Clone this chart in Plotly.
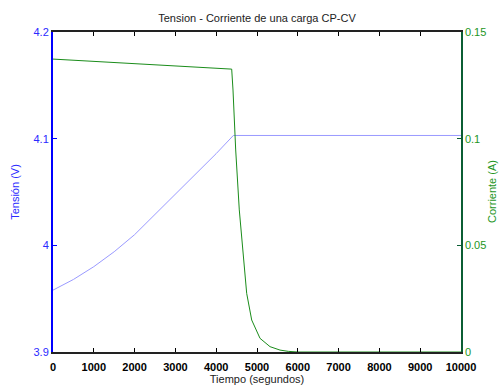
import plotly.graph_objects as go

# Voltage (V) vs time (s)
t_v = [0, 500, 1000, 1500, 2000, 2500, 3000, 3500, 4000, 4420, 10000]
v = [3.958, 3.968, 3.980, 3.994, 4.010, 4.029, 4.048, 4.067, 4.086, 4.103, 4.103]

# Current (A) vs time (s)
t_i = [0, 1000, 2000, 3000, 4000, 4380, 4412, 4478, 4566, 4689, 4747, 4870,
       5074, 5319, 5564, 5767, 6000, 10000]
i_a = [0.1373, 0.1363, 0.1353, 0.1342, 0.1330, 0.1326, 0.1228, 0.0947, 0.0666,
       0.0384, 0.0275, 0.0150, 0.0064, 0.0025, 0.0009, 0.0003, 0.0, 0.0]

x_ticks = list(range(0, 10001, 1000))
x_tick_text = [str(t) for t in x_ticks]
v_ticks = [3.9, 4.0, 4.1, 4.2]
v_tick_text = ["3.9", "4", "4.1", "4.2"]
i_ticks = [0, 0.05, 0.1, 0.15]
i_tick_text = ["0", "0.05", "0.1", "0.15"]

FONT = "Liberation Sans, Arial, sans-serif"
BLUE = "#0000ff"
GREEN_TXT = "#1e961e"
GREEN_AX = "#0b5e34"

fig = go.Figure()
fig.add_trace(go.Scatter(x=t_v, y=v, mode="lines", yaxis="y",
                         line=dict(color="#9a9aff", width=1), showlegend=False))
fig.add_trace(go.Scatter(x=t_i, y=i_a, mode="lines", yaxis="y2",
                         line=dict(color="#1a8c1a", width=1), showlegend=False))

fig.update_layout(
    width=499, height=385,
    margin=dict(l=53, r=38, t=32, b=33, autoexpand=False),
    paper_bgcolor="white", plot_bgcolor="white",
    font=dict(family=FONT, size=11, color="black"),
    title=dict(text="Tension - Corriente de una carga CP-CV", x=0.515, xanchor="center",
               y=1 - 18 / 385, yanchor="middle", font=dict(size=11, color="#222")),
    xaxis=dict(range=[0, 10000], tickvals=x_ticks, ticktext=x_tick_text,
               ticks="inside", ticklen=4, ticklabelstandoff=4,
               tickcolor="black", showline=True, linecolor="#222", linewidth=1.5,
               mirror="ticks", showgrid=False, zeroline=False, automargin=False,
               tickfont=dict(size=11, color="black", weight="bold"),
               title=dict(text="Tiempo (segundos)", standoff=0, font=dict(size=11, color="#222"))),
    yaxis=dict(range=[3.9, 4.2], tickvals=v_ticks, ticktext=v_tick_text,
               ticks="inside", ticklen=4, tickcolor=BLUE, showline=True,
               linecolor=BLUE, linewidth=2, showgrid=False, zeroline=False,
               automargin=False,
               tickfont=dict(size=11, color="#2a2aff"),
               title=dict(text="Tensión (V)", standoff=12,
                          font=dict(size=11, color="#2a2aff"))),
    yaxis2=dict(range=[0, 0.15], tickvals=i_ticks, ticktext=i_tick_text,
                overlaying="y", side="right", ticks="inside", ticklen=4,
                tickcolor=GREEN_AX, showline=True, linecolor=GREEN_AX, linewidth=1.5,
                showgrid=False, zeroline=False, automargin=False,
                tickfont=dict(size=11, color=GREEN_TXT)),
    annotations=[dict(text="Corriente (A)", xref="paper", yref="paper",
                      x=(492 - 53) / 408, y=0.5, xanchor="center", yanchor="middle",
                      textangle=-90, showarrow=False,
                      font=dict(size=11, color=GREEN_TXT))],
)

fig.write_html("out.html")
